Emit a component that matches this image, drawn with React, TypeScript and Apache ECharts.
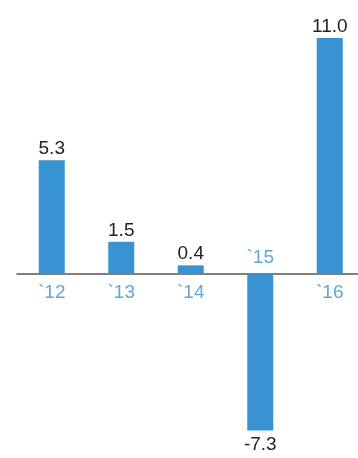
import React, { useEffect, useRef } from "react";
import * as echarts from "echarts";

const categories = ["`12", "`13", "`14", "`15", "`16"];
const values = [5.3, 1.5, 0.4, -7.3, 11.0];

const BAR = "#3893d3";
const LABEL_BLUE = "#3a8fd2";

export default function App() {
  const ref = useRef<HTMLDivElement>(null);
  useEffect(() => {
    if (!ref.current) return;
    const chart = echarts.init(ref.current, undefined, { renderer: "svg" });
    chart.setOption({
      animation: false,
      grid: {
        left: 17,
        width: 347.5,
        top: 38,
        height: 393.6,
        outerBoundsMode: "none",
        containLabel: false,
      },
      xAxis: {
        type: "category",
        data: categories,
        axisLine: { onZero: true, lineStyle: { color: "#555", width: 1.5 } },
        axisTick: { show: false },
        axisLabel: { show: false },
      },
      yAxis: {
        type: "value",
        min: -7.35,
        max: 11,
        show: false,
        splitLine: { show: false },
      },
      series: [
        {
          type: "bar",
          data: values.map((v) => ({
            value: v,
            label: { position: v >= 0 ? "top" : "bottom" },
          })),
          barWidth: 26,
          itemStyle: { color: BAR },
          label: {
            show: true,
            distance: 3,
            color: "#222",
            fontSize: 19,
            fontFamily: "Liberation Sans, Arial, sans-serif",
            formatter: (p: any) => Number(p.value).toFixed(1),
          },
        },
        {
          type: "scatter",
          data: values.map((v, i) => ({
            value: [categories[i], 0],
            label: { position: v >= 0 ? "bottom" : "top" },
          })),
          symbolSize: 0,
          silent: true,
          label: {
            show: true,
            distance: 8,
            color: LABEL_BLUE,
            fontSize: 19,
            fontFamily: "Liberation Sans, Arial, sans-serif",
            formatter: (p: any) => categories[p.dataIndex],
          },
        },
      ],
    });
    return () => chart.dispose();
  }, []);
  return (
    <div
      ref={ref}
      style={{ position: "fixed", left: 0, top: 0, width: 358, height: 458 }}
    />
  );
}
